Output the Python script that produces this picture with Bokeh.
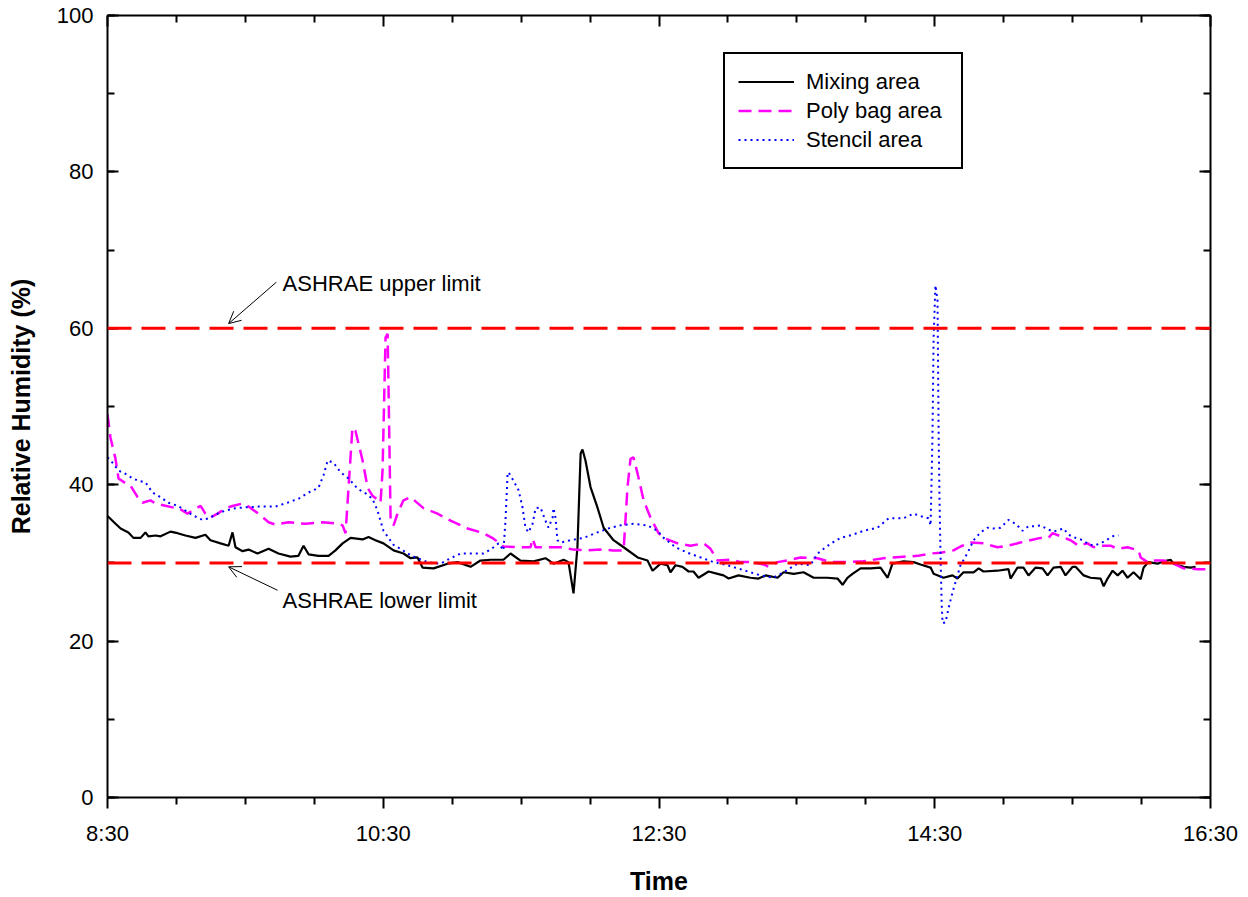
from bokeh.plotting import figure
from bokeh.models import (Range1d, LinearAxis, FixedTicker, SingleIntervalTicker, Span,
                          Label, Arrow, OpenHead, CustomJSTickFormatter)
from bokeh.embed import file_html
from bokeh.resources import INLINE

# ---- data (time in minutes since midnight, relative humidity in %) ----
mixing_t = [510, 513.5, 515.7, 519.1, 521.3, 524.4, 526.5, 527.8, 530.9, 533.1, 537.4, 540.5, 543.9,
            548.3, 552.6, 554.8, 559.2, 562.7, 564.4, 565.7, 568.8, 571.4, 575.3, 580.1, 584.4, 589.6,
            593.1, 595.3, 597.5, 601.8, 606.2, 609.2, 612.3, 615.8, 621.0, 623.6, 626.6, 630.1, 634.5,
            638.8, 641.9, 644.9, 647.1, 651.9, 658.0, 662.3, 668.0, 672.3, 676.7, 682.3, 685.4, 689.7,
            695.4, 700.6, 704.1, 708.5, 710.6, 712.8, 714.5, 715.9, 716.7, 718.0, 720.2, 723.2, 725.9,
            730.2, 734.6, 740.7, 745.0, 747.2, 750.7, 753.7, 755.0, 757.2, 760.2, 762.9, 765.0, 767.2,
            771.6, 775.5, 778.1, 780.3, 784.6, 789.8, 793.3, 796.4, 801.6, 804.2, 808.6, 812.9, 817.3,
            823.3, 827.7, 829.9, 832.0, 834.2, 837.7, 842.1, 846.4, 849.5, 851.6, 856.4, 860.8, 863.8,
            868.2, 869.5, 873.8, 877.7, 879.9, 882.5, 886.9, 889.1, 891.2, 897.3, 902.1, 903.0, 906.0,
            908.6, 910.8, 913.9, 916.9, 919.1, 921.7, 924.8, 926.9, 930.0, 931.3, 934.8, 937.8, 942.2,
            943.5, 945.2, 947.4, 949.6, 951.7, 953.9, 956.5, 959.6, 960.9, 963.0, 967.0, 969.6, 972.6,
            973.9, 978.3, 981.3, 983.5]
mixing_rh = [36.0, 35.0, 34.4, 33.9, 33.2, 33.2, 33.9, 33.4, 33.5, 33.4, 34.0, 33.8, 33.5,
             33.2, 33.6, 32.9, 32.5, 32.2, 33.9, 32.0, 31.5, 31.7, 31.2, 31.8, 31.2, 30.8,
             30.9, 32.2, 31.1, 30.9, 30.9, 31.6, 32.5, 33.2, 33.0, 33.3, 32.9, 32.5, 31.6,
             31.2, 30.6, 30.7, 29.4, 29.3, 29.9, 30.1, 29.5, 30.3, 30.4, 30.4, 31.2, 30.3,
             30.2, 30.6, 29.9, 30.4, 30.1, 26.1, 32.0, 44.0, 44.5, 43.1, 39.7, 37.1, 34.5,
             32.9, 32.0, 30.7, 30.3, 29.0, 29.9, 29.7, 28.8, 29.7, 29.5, 28.9, 28.9, 28.1,
             28.9, 28.6, 28.4, 28.0, 28.4, 28.1, 28.0, 28.4, 28.1, 28.8, 28.6, 28.8, 28.1,
             28.1, 28.0, 27.2, 28.1, 28.6, 29.3, 29.3, 29.4, 28.1, 29.9, 30.2, 30.1, 29.8,
             29.4, 28.6, 28.1, 28.4, 28.0, 28.8, 28.8, 29.3, 28.9, 29.0, 29.2, 28.0, 29.4,
             29.4, 28.4, 29.4, 29.3, 28.4, 29.4, 29.5, 28.4, 29.5, 29.5, 28.4, 28.1, 28.0,
             27.0, 28.0, 29.0, 28.4, 29.0, 28.1, 28.8, 27.9, 29.4, 30.1, 29.9, 30.2, 30.4,
             29.9, 29.5, 29.4, 29.5]

polybag_t = [510, 511.3, 513.5, 514.8, 517.8, 520.0, 523.1, 525.2, 528.7, 530.9, 535.2, 538.3, 540.9,
             544.8, 547.0, 550.5, 552.6, 554.8, 557.9, 561.4, 564.8, 568.8, 571.4, 575.7, 580.1, 583.1,
             588.8, 596.2, 603.6, 610.5, 612.3, 613.6, 616.6, 617.9, 621.0, 623.2, 625.3, 627.9, 628.8,
             629.7, 631.0, 631.9, 632.3, 633.2, 634.5, 636.2, 638.8, 641.9, 647.5, 653.6, 659.3, 666.7,
             673.6, 678.0, 682.3, 688.4, 694.1, 695.0, 696.3, 701.5, 707.1, 712.8, 718.9, 724.6, 730.2,
             734.6, 736.3, 737.6, 738.9, 740.7, 743.3, 746.3, 749.8, 752.0, 758.1, 763.7, 769.4, 772.4,
             775.5, 781.1, 785.5, 791.1, 795.5, 797.7, 801.6, 807.2, 811.6, 819.0, 824.6, 830.3, 839.0,
             847.7, 856.4, 862.5, 868.2, 872.5, 878.2, 881.2, 885.6, 891.2, 897.3, 901.7, 907.3, 913.0,
             916.0, 919.5, 921.3, 924.8, 929.1, 932.6, 936.5, 939.1, 942.2, 946.5, 949.6, 953.9, 958.7,
             959.6, 962.6, 965.2, 969.6, 973.9, 978.3, 984.4, 990]
polybag_rh = [49.0, 46.0, 43.3, 40.8, 40.2, 39.9, 38.4, 37.7, 38.0, 37.6, 37.3, 37.1, 37.0,
              36.3, 36.7, 37.3, 36.3, 35.8, 36.3, 37.0, 37.3, 37.6, 37.2, 36.3, 35.2, 34.9,
              35.2, 35.0, 35.2, 35.0, 34.8, 33.8, 47.3, 46.9, 43.1, 39.6, 38.6, 38.0, 37.7,
              41.8, 58.8, 59.3, 52.4, 35.4, 34.8, 36.3, 38.0, 38.4, 37.0, 36.3, 35.4, 34.4,
              33.8, 33.1, 32.1, 32.0, 32.0, 33.1, 32.0, 32.0, 32.0, 31.7, 31.6, 31.7, 31.6,
              31.6, 39.7, 43.3, 43.5, 41.4, 38.0, 35.8, 33.8, 33.2, 32.5, 32.2, 32.5, 31.8,
              30.3, 30.4, 30.1, 30.1, 29.8, 29.5, 30.1, 30.4, 30.7, 30.6, 30.1, 30.1, 30.2,
              30.6, 30.8, 30.9, 31.2, 31.3, 31.6, 32.1, 32.6, 32.5, 32.0, 32.2, 32.6, 33.0,
              33.2, 33.2, 33.8, 33.4, 32.9, 32.2, 32.5, 32.0, 32.2, 32.2, 31.8, 32.0, 31.6,
              30.7, 30.1, 30.3, 30.3, 29.9, 29.3, 29.2, 29.2]

stencil_t = [510.0, 512.2, 514.8, 517.8, 520.9, 523.5, 526.5, 529.6, 533.1, 536.5, 540.5, 543.9, 547.0,
             551.3, 554.0, 557.9, 561.4, 565.7, 570.1, 575.7, 583.1, 588.3, 593.1, 597.5, 601.8, 604.0,
             605.8, 608.4, 611.4, 614.9, 618.8, 622.3, 625.3, 627.5, 630.1, 632.3, 634.5, 637.5, 640.6,
             644.0, 649.3, 654.9, 659.3, 663.6, 669.3, 673.6, 676.7, 680.2, 682.3, 683.2, 684.1, 684.5,
             686.7, 688.9, 690.6, 691.9, 693.2, 695.0, 696.3, 698.4, 700.6, 701.9, 703.7, 704.1, 705.0,
             705.8, 707.1, 711.5, 717.2, 723.2, 728.9, 733.3, 738.9, 745.0, 749.4, 752.0, 757.2, 762.4,
             768.1, 773.7, 779.8, 784.2, 789.8, 794.2, 799.8, 804.2, 810.3, 815.9, 819.0, 822.5, 825.5,
             829.0, 834.2, 839.0, 845.1, 849.9, 856.4, 860.8, 864.7, 867.3, 868.2, 869.0, 869.5, 870.3,
             871.2, 871.7, 872.1, 872.5, 873.0, 873.4, 874.7, 876.0, 877.7, 879.0, 881.2, 884.3, 886.9,
             889.9, 893.0, 895.6, 898.6, 902.1, 905.2, 908.2, 910.8, 913.9, 916.0, 919.1, 921.7, 926.1,
             928.2, 931.3, 933.5, 936.5, 939.1, 942.2, 945.2, 947.4, 950.0]
stencil_rh = [43.5, 42.8, 41.8, 41.4, 40.8, 40.5, 40.3, 39.0, 38.4, 37.7, 37.3, 36.7, 36.1,
              35.5, 35.7, 36.3, 36.7, 37.0, 37.1, 37.2, 37.2, 37.7, 38.2, 39.0, 39.6, 41.2,
              43.1, 42.8, 41.6, 40.8, 39.5, 38.9, 38.2, 36.7, 34.1, 33.2, 32.3, 31.8, 31.2,
              30.7, 30.1, 29.9, 30.6, 31.2, 31.2, 31.2, 31.7, 32.5, 31.6, 35.4, 41.4, 41.6,
              40.5, 39.3, 37.1, 34.5, 33.9, 35.0, 37.0, 37.1, 35.4, 34.5, 35.8, 37.0, 35.7,
              32.9, 32.6, 32.9, 33.2, 33.9, 34.5, 34.8, 35.0, 34.8, 34.1, 33.2, 32.0, 31.3,
              30.7, 30.1, 29.7, 29.3, 28.8, 28.4, 28.1, 28.8, 29.9, 29.7, 31.2, 32.0, 32.6,
              33.2, 33.6, 34.1, 34.5, 35.7, 35.7, 36.3, 35.9, 35.7, 34.8, 46.0, 58.8, 65.5,
              63.6, 46.0, 37.6, 31.2, 24.8, 22.3, 22.4, 24.2, 26.2, 27.5, 29.7, 31.3, 32.9,
              33.9, 34.5, 34.4, 34.5, 35.5, 35.0, 34.1, 34.7, 34.7, 34.8, 34.3, 34.0, 34.4,
              33.6, 33.2, 33.0, 32.5, 32.2, 32.5, 33.0, 33.4, 33.5]

upper_limit = 60
lower_limit = 30
x_major = [510, 630, 750, 870, 990]
x_major_labels = ["8:30", "10:30", "12:30", "14:30", "16:30"]
x_minor = [540, 570, 600, 660, 690, 720, 780, 810, 840, 900, 930, 960]

FONT = "Liberation Sans"

p = figure(width=1248, height=897, output_backend="svg", toolbar_location=None,
           x_range=Range1d(510, 990), y_range=Range1d(0, 100),
           x_axis_location=None, y_axis_location=None,
           min_border_left=107, min_border_right=38, min_border_top=15, min_border_bottom=100)
p.xgrid.visible = False
p.ygrid.visible = False
p.outline_line_color = None
p.background_fill_color = "white"
p.border_fill_color = "white"

xt = FixedTicker(ticks=x_major, minor_ticks=x_minor)
yt = SingleIntervalTicker(interval=20, num_minor_ticks=2)
blank = CustomJSTickFormatter(code="return ''")


def style(ax, tin, tout):
    ax.axis_line_width = 2
    ax.axis_line_color = "black"
    ax.major_tick_line_width = 2
    ax.minor_tick_line_width = 2
    ax.major_tick_in = tin
    ax.major_tick_out = tout
    ax.minor_tick_in = int(tin * 0.64)
    ax.minor_tick_out = int(tout * 0.64)
    ax.major_label_text_font = FONT
    ax.major_label_text_font_size = "22px"
    ax.major_label_text_color = "black"
    ax.axis_label_text_font = FONT
    ax.axis_label_text_font_size = "25px"
    ax.axis_label_text_font_style = "bold"
    ax.axis_label_text_color = "black"


bottom = LinearAxis(ticker=xt, axis_label="Time",
                    major_label_overrides={t: l for t, l in zip(x_major, x_major_labels)})
style(bottom, 0, 11)
bottom.major_label_standoff = 12
bottom.axis_label_standoff = 18
p.add_layout(bottom, "below")

left = LinearAxis(ticker=yt, axis_label="Relative Humidity (%)")
style(left, 11, 0)
left.major_label_standoff = 14
left.axis_label_standoff = 19
p.add_layout(left, "left")

top = LinearAxis(ticker=xt, formatter=blank)
style(top, 11, 0)
top.major_label_standoff = 0
p.add_layout(top, "above")

right = LinearAxis(ticker=yt, formatter=blank)
style(right, 11, 0)
right.major_label_standoff = 0
p.add_layout(right, "right")

for lim in (upper_limit, lower_limit):
    p.add_layout(Span(location=lim, dimension="width", line_color="#FF0000",
                      line_width=3, line_dash="24 10"))

p.line(mixing_t, mixing_rh, line_color="black", line_width=2.2, legend_label="Mixing area")
p.line(polybag_t, polybag_rh, line_color="#FF00FF", line_width=2.5, line_dash="13 7",
       legend_label="Poly bag area")
p.line(stencil_t, stencil_rh, line_color="#0000FF", line_width=2, line_dash="2 4",
       legend_label="Stencil area")

# annotations
p.add_layout(Arrow(end=OpenHead(size=12, line_width=1, line_color="black"),
                   x_start=583.5, y_start=65.9, x_end=562.7, y_end=60.6,
                   line_width=1, line_color="black"))
p.add_layout(Arrow(end=OpenHead(size=12, line_width=1, line_color="black"),
                   x_start=584.0, y_start=26.5, x_end=562.7, y_end=29.5,
                   line_width=1, line_color="black"))
p.add_layout(Label(x=586.2, y=65.7, text="ASHRAE upper limit", text_font=FONT,
                   text_font_size="22px", text_baseline="middle", text_color="black"))
p.add_layout(Label(x=586.2, y=25.2, text="ASHRAE lower limit", text_font=FONT,
                   text_font_size="22px", text_baseline="middle", text_color="black"))

lg = p.legend[0]
lg.location = (616, 628)
lg.margin = 0
lg.padding = 13
lg.spacing = 0
lg.label_height = 29
lg.glyph_height = 29
lg.glyph_width = 56
lg.label_standoff = 12
lg.label_width = 142
lg.label_text_font = FONT
lg.label_text_font_size = "22px"
lg.label_text_color = "black"
lg.border_line_color = "black"
lg.border_line_alpha = 1
lg.border_line_width = 2
lg.background_fill_alpha = 1
lg.background_fill_color = "white"

open("out.html", "w").write(file_html(p, INLINE))
